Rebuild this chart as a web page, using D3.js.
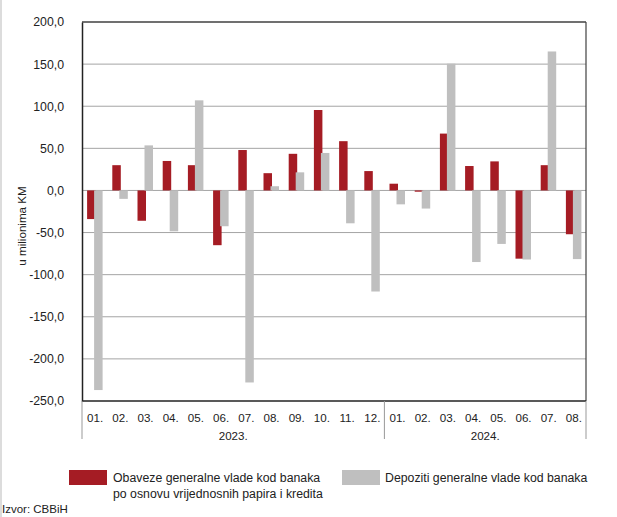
<!DOCTYPE html>
<html>
<head>
<meta charset="utf-8">
<script src="https://cdn.jsdelivr.net/npm/d3@7"></script>
<style>
  html, body { margin: 0; padding: 0; background: #fff; }
  svg { display: block; font-family: "Liberation Sans", Arial, sans-serif; }
</style>
</head>
<body>
<svg id="chart" width="617" height="517"></svg>
<script>
// ---- data ----
const months = ["01.","02.","03.","04.","05.","06.","07.","08.","09.","10.","11.","12.",
                "01.","02.","03.","04.","05.","06.","07.","08."];
const years = ["2023.","2024."];
const yearOf = [0,0,0,0,0,0,0,0,0,0,0,0,1,1,1,1,1,1,1,1];
const obaveze = [-34, 30, -36, 35, 30, -65, 48, 20.5, 43.5, 95.5, 58.5, 23,
                 8, -1.5, 67.5, 29, 34.5, -81, 30, -52];
const depoziti = [-237, -10, 53.5, -48.5, 107, -42.5, -228, 5, 21.5, 44.5, -39, -120,
                  -16.5, -21.5, 150.5, -85, -63.5, -82, 165, -81.5];
const yTicks = [200, 150, 100, 50, 0, -50, -100, -150, -200, -250];
const seriesNames = ["Obaveze generalne vlade kod banaka|po osnovu vrijednosnih papira i kredita",
                     "Depoziti generalne vlade kod banaka"];
const colors = ["#A51C24", "#BFBFBF"];

// ---- layout ----
const svg = d3.select("#chart");
const L = 82, R = 586, T = 22, B = 401;

const x = d3.scaleBand().domain(d3.range(months.length)).range([L, R]).padding(0);
const y = d3.scaleLinear().domain([-250, 200]).range([B, T]);
const fmt = v => d3.format(".1f")(v).replace(".", ",").replace("−", "-");

// light left border of image
svg.append("line").attr("x1", 1).attr("x2", 1).attr("y1", 0).attr("y2", 517)
  .attr("stroke", "#d0d0d0").attr("stroke-width", 1.5);

// gridlines
svg.append("g").selectAll("line").data(yTicks.filter(t => t !== 200 && t !== -250))
  .join("line")
  .attr("x1", L).attr("x2", R)
  .attr("y1", d => y(d)).attr("y2", d => y(d))
  .attr("stroke", "#a4a4a4").attr("stroke-width", 1);

// bars
const cw = x.bandwidth();
const bw = 8.5;
svg.append("g").selectAll("rect").data(obaveze).join("rect")
  .attr("x", (d, i) => x(i) + cw / 2 - 7.5)
  .attr("width", bw)
  .attr("y", d => y(Math.max(0, d)))
  .attr("height", d => Math.abs(y(d) - y(0)))
  .attr("fill", colors[0]);
svg.append("g").selectAll("rect").data(depoziti).join("rect")
  .attr("x", (d, i) => x(i) + cw / 2 - 0.5)
  .attr("width", bw)
  .attr("y", d => y(Math.max(0, d)))
  .attr("height", d => Math.abs(y(d) - y(0)))
  .attr("fill", colors[1]);

// frame
svg.append("line").attr("x1", L).attr("x2", R).attr("y1", T).attr("y2", T)
  .attr("stroke", "#404040").attr("stroke-width", 1.5);
svg.append("line").attr("x1", R).attr("x2", R).attr("y1", T).attr("y2", B)
  .attr("stroke", "#404040").attr("stroke-width", 1.2);

// y axis
const yAxis = d3.axisLeft(y).tickValues(yTicks).tickSize(0).tickPadding(18).tickFormat(fmt);
const gy = svg.append("g").attr("transform", `translate(${L},0)`).call(yAxis);
gy.select(".domain").attr("stroke", "#222").attr("stroke-width", 1.5);
gy.selectAll("text").attr("font-size", 12.3).attr("fill", "#222")
  .attr("font-family", "'Liberation Sans', Arial, sans-serif");

// x axis (bottom line)
svg.append("line").attr("x1", L).attr("x2", R).attr("y1", B).attr("y2", B)
  .attr("stroke", "#222").attr("stroke-width", 1.5);

// month labels
svg.append("g").selectAll("text").data(months).join("text")
  .attr("x", (d, i) => x(i) + cw / 2 + 0.5)
  .attr("y", 422)
  .attr("text-anchor", "middle")
  .attr("font-size", 11.6).attr("fill", "#222")
  .text(d => d);

// year groups
const yearIdx = years.map((yr, k) => {
  const idx = yearOf.map((v, i) => v === k ? i : -1).filter(i => i >= 0);
  return { label: yr, x0: x(idx[0]), x1: x(idx[idx.length - 1]) + cw };
});
svg.append("g").selectAll("text").data(yearIdx).join("text")
  .attr("x", d => (d.x0 + d.x1) / 2)
  .attr("y", 440)
  .attr("text-anchor", "middle")
  .attr("font-size", 11.6).attr("fill", "#222")
  .text(d => d.label);
const seps = [yearIdx[0].x0, yearIdx[1].x0, yearIdx[1].x1];
svg.append("g").selectAll("line").data(seps).join("line")
  .attr("x1", d => d).attr("x2", d => d)
  .attr("y1", B).attr("y2", 439)
  .attr("stroke", "#999").attr("stroke-width", 1);

// y title
svg.append("text")
  .attr("transform", "translate(26,226) rotate(-90)")
  .attr("text-anchor", "middle")
  .attr("font-size", 11.6).attr("fill", "#222")
  .text("u milionima KM");

// legend
const leg = [{ x: 69, tx: 113 }, { x: 342, tx: 385 }];
leg.forEach((l, k) => {
  svg.append("rect").attr("x", l.x).attr("y", 470).attr("width", 38).attr("height", 15)
    .attr("fill", colors[k]);
  const lines = seriesNames[k].split("|");
  lines.forEach((t, j) => {
    svg.append("text").attr("x", l.tx).attr("y", 482 + j * 16)
      .attr("font-size", 12.3).attr("fill", "#222").text(t);
  });
});

// source
svg.append("text").attr("x", 2).attr("y", 513)
  .attr("font-size", 11.5).attr("fill", "#222").text("Izvor: CBBiH");
</script>
</body>
</html>
